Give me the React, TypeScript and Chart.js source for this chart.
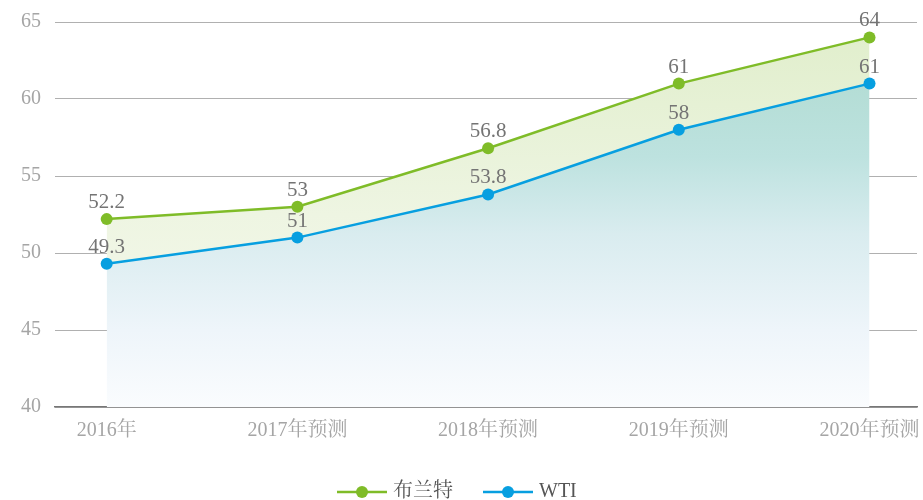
import React, { useEffect, useRef } from "react";
import { Chart, registerables } from "chart.js";

Chart.register(...registerables);

const categories = ["2016年", "2017年预测", "2018年预测", "2019年预测", "2020年预测"];
const brentValues = [52.2, 53, 56.8, 61, 64];
const wtiValues = [49.3, 51, 53.8, 58, 61];
const brentLabels = ["52.2", "53", "56.8", "61", "64"];
const wtiLabels = ["49.3", "51", "53.8", "58", "61"];
const seriesNames = ["布兰特", "WTI"];

const GREEN = "#7fbc28";
const BLUE = "#079fe0";
const FONT = "'Liberation Serif', 'Noto Serif CJK SC', 'Noto Sans CJK SC', serif";

const dataLabelPlugin = {
  id: "dataLabels",
  afterDatasetsDraw(chart: any) {
    const ctx = chart.ctx;
    ctx.save();
    ctx.font = `21px ${FONT}`;
    ctx.fillStyle = "#747474";
    ctx.textAlign = "center";
    ctx.textBaseline = "alphabetic";
    const labelSets = [brentLabels, wtiLabels];
    chart.data.datasets.forEach((_: any, di: number) => {
      const meta = chart.getDatasetMeta(di);
      meta.data.forEach((pt: any, i: number) => {
        ctx.fillText(labelSets[di][i], pt.x, pt.y - 11);
      });
    });
    ctx.restore();
  },
};

const legendPlugin = {
  id: "customLegend",
  afterDraw(chart: any) {
    const ctx = chart.ctx;
    ctx.save();
    const y = 492;
    const items = [
      { x: 337, color: GREEN, text: seriesNames[0] },
      { x: 483, color: BLUE, text: seriesNames[1] },
    ];
    ctx.font = `20px ${FONT}`;
    ctx.textBaseline = "middle";
    ctx.textAlign = "left";
    items.forEach((it) => {
      ctx.strokeStyle = it.color;
      ctx.lineWidth = 2.5;
      ctx.beginPath();
      ctx.moveTo(it.x, y);
      ctx.lineTo(it.x + 50, y);
      ctx.stroke();
      ctx.fillStyle = it.color;
      ctx.beginPath();
      ctx.arc(it.x + 25, y, 6, 0, Math.PI * 2);
      ctx.fill();
      ctx.fillStyle = "#555";
      ctx.fillText(it.text, it.x + 56, y);
    });
    ctx.restore();
  },
};

export default function App() {
  const ref = useRef<HTMLCanvasElement>(null);
  useEffect(() => {
    document.body.style.margin = "0";
    const canvas = ref.current!;
    const chart = new Chart(canvas, {
      type: "line",
      data: {
        datasets: [
          {
            label: seriesNames[0],
            data: brentValues.map((v, i) => ({ x: i, y: v })),
            borderColor: GREEN,
            borderWidth: 2.5,
            pointBackgroundColor: GREEN,
            pointBorderColor: GREEN,
            pointRadius: 6,
            pointBorderWidth: 0,
            tension: 0,
            fill: "+1",
            backgroundColor: (c: any) => {
              const a = c.chart.chartArea;
              if (!a) return "#e6f1d6";
              const g = c.chart.ctx.createLinearGradient(0, a.top, 0, a.bottom);
              g.addColorStop(0, "#e0eecb");
              g.addColorStop(0.5, "#eef5e2");
              g.addColorStop(1, "#f7faef");
              return g;
            },
          },
          {
            label: seriesNames[1],
            data: wtiValues.map((v, i) => ({ x: i, y: v })),
            borderColor: BLUE,
            borderWidth: 2.5,
            pointBackgroundColor: BLUE,
            pointBorderColor: BLUE,
            pointRadius: 6,
            pointBorderWidth: 0,
            tension: 0,
            fill: "start",
            backgroundColor: (c: any) => {
              const a = c.chart.chartArea;
              if (!a) return "#cde8e6";
              const g = c.chart.ctx.createLinearGradient(0, a.top, 0, a.bottom);
              g.addColorStop(0, "#acd9cd");
              g.addColorStop(0.35, "#bde2df");
              g.addColorStop(0.55, "#d9ecef");
              g.addColorStop(0.8, "#eef5fa");
              g.addColorStop(1, "#fafcfe");
              return g;
            },
          },
        ],
      },
      options: {
        animation: false,
        responsive: false,
        layout: { padding: { top: 22, right: 0, left: 0, bottom: 0 } },
        plugins: {
          legend: { display: false },
          tooltip: { enabled: false },
          filler: { drawTime: "beforeDatasetsDraw" },
        },
        scales: {
          x: {
            type: "linear",
            min: -0.271,
            max: 4.249,
            afterBuildTicks: (s: any) => {
              s.ticks = categories.map((_, i) => ({ value: i }));
            },
            afterFit: (s: any) => {
              s.height = 93;
              s.paddingLeft = 0;
              s.paddingRight = 0;
            },
            ticks: {
              callback: (v: any) => categories[v as number] ?? "",
              color: "#a5a5a5",
              font: { size: 20, family: FONT },
              padding: 12,
              maxRotation: 0,
              autoSkip: false,
            },
            grid: { display: false, drawTicks: false },
            border: { display: true, color: "#777", width: 1.5 },
          },
          y: {
            min: 40,
            max: 65,
            afterFit: (s: any) => {
              s.width = 55;
              s.paddingTop = 0;
              s.paddingBottom = 0;
            },
            ticks: {
              stepSize: 5,
              color: "#a5a5a5",
              font: { size: 20, family: FONT },
              padding: 14,
            },
            grid: { color: "#b0b0b0", lineWidth: 1, drawTicks: false },
            border: { display: false },
          },
        },
      },
      plugins: [dataLabelPlugin, legendPlugin],
    } as any);
    return () => chart.destroy();
  }, []);
  return <canvas ref={ref} width={923} height={500} style={{ display: "block" }} />;
}
